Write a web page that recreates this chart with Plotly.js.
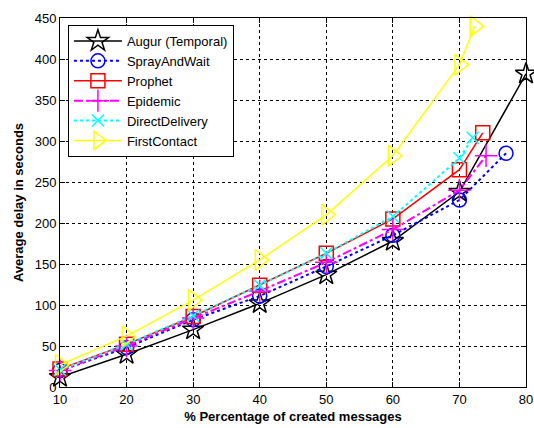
<!DOCTYPE html>
<html>
<head>
<meta charset="utf-8">
<script src="https://cdn.plot.ly/plotly-3.0.1.min.js"></script>
<style>html,body{margin:0;padding:0;background:#fff;}#chart{width:534px;height:428px;}</style>
</head>
<body>
<div id="chart"></div>
<script>
// Data
const seriesNames = ["Augur (Temporal)", "SprayAndWait", "Prophet", "Epidemic", "DirectDelivery", "FirstContact"];
const xAugur = [10, 20, 30, 40, 50, 60, 70, 80];
const yAugur = [12, 40, 70, 102, 137, 178, 238, 382];
const xSpray = [10, 20, 30, 40, 50, 60, 70, 77];
const ySpray = [20, 48, 82, 111, 147, 185, 228, 285];
const xProphet = [10, 20, 30, 40, 50, 60, 70, 73.5];
const yProphet = [22, 52, 86, 124, 163, 205, 265, 310];
const xEpidemic = [10, 20, 30, 40, 50, 60, 70, 74];
const yEpidemic = [20, 50, 84, 117, 152, 192, 240, 282];
const xDirect = [10, 20, 30, 40, 50, 60, 70, 72];
const yDirect = [21, 52, 87, 124, 163, 208, 279, 304];
const xFirst = [10, 20, 30, 40, 50, 60, 70, 72.3];
const yFirst = [27, 62, 106, 155, 210, 282, 393, 440];
const xTicks = [10, 20, 30, 40, 50, 60, 70, 80];
const yTicks = [0, 50, 100, 150, 200, 250, 300, 350, 400, 450];

function tr(name, x, y, color, dash, symbol, size, width) {
  return {
    type: 'scatter', mode: 'lines+markers', name: name, x: x, y: y,
    line: {color: color, dash: dash, width: width || 1.5},
    marker: {symbol: symbol, size: size, color: color, line: {color: color, width: 1.5}},
    cliponaxis: false
  };
}

const data = [
  tr(seriesNames[0], xAugur, yAugur, '#000000', 'solid', 'star-open', 16, 1.5),
  tr(seriesNames[1], xSpray, ySpray, '#0000ff', 'dot', 'circle-open', 14, 2),
  tr(seriesNames[2], xProphet, yProphet, '#ff0000', 'solid', 'square-open', 14, 1.5),
  tr(seriesNames[3], xEpidemic, yEpidemic, '#ff00ff', 'dashdot', 'cross-thin-open', 16, 2),
  tr(seriesNames[4], xDirect, yDirect, '#00ffff', 'dot', 'x-thin-open', 12, 2),
  tr(seriesNames[5], xFirst, yFirst, '#ffff00', 'solid', 'triangle-right-open', 18, 1.5)
];

const axisCommon = {
  showline: true, mirror: 'ticks', linecolor: '#000', linewidth: 1,
  ticks: 'inside', ticklen: 5, tickcolor: '#000',
  showgrid: true, gridcolor: '#000', griddash: '3px,3px', gridwidth: 1,
  zeroline: false, ticklabeloverflow: 'allow',
  tickfont: {family: 'Arial, Liberation Sans, sans-serif', size: 13, color: '#000'}
};

const layout = {
  width: 534, height: 428,
  margin: {l: 60, r: 8, t: 18, b: 41},
  paper_bgcolor: '#fff', plot_bgcolor: '#fff',
  font: {family: 'Arial, Liberation Sans, sans-serif', color: '#000'},
  xaxis: Object.assign({}, axisCommon, {
    range: [10, 80], tickvals: xTicks,
    title: {text: '<b>% Percentage of created messages</b>', font: {size: 13}, standoff: 6}
  }),
  yaxis: Object.assign({}, axisCommon, {
    range: [0, 450], tickvals: yTicks,
    title: {text: '<b>Average delay in seconds</b>', font: {size: 13}, standoff: 8}
  }),
  showlegend: true,
  legend: {
    x: 0.017, y: 0.981, xanchor: 'left', yanchor: 'top',
    bgcolor: '#fff', bordercolor: '#000', borderwidth: 1,
    font: {family: 'Arial, Liberation Sans, sans-serif', size: 13, color: '#000'},
    itemwidth: 48, tracegroupgap: 0
  }
};

Plotly.newPlot('chart', data, layout, {displayModeBar: false, staticPlot: true});
</script>
</body>
</html>
